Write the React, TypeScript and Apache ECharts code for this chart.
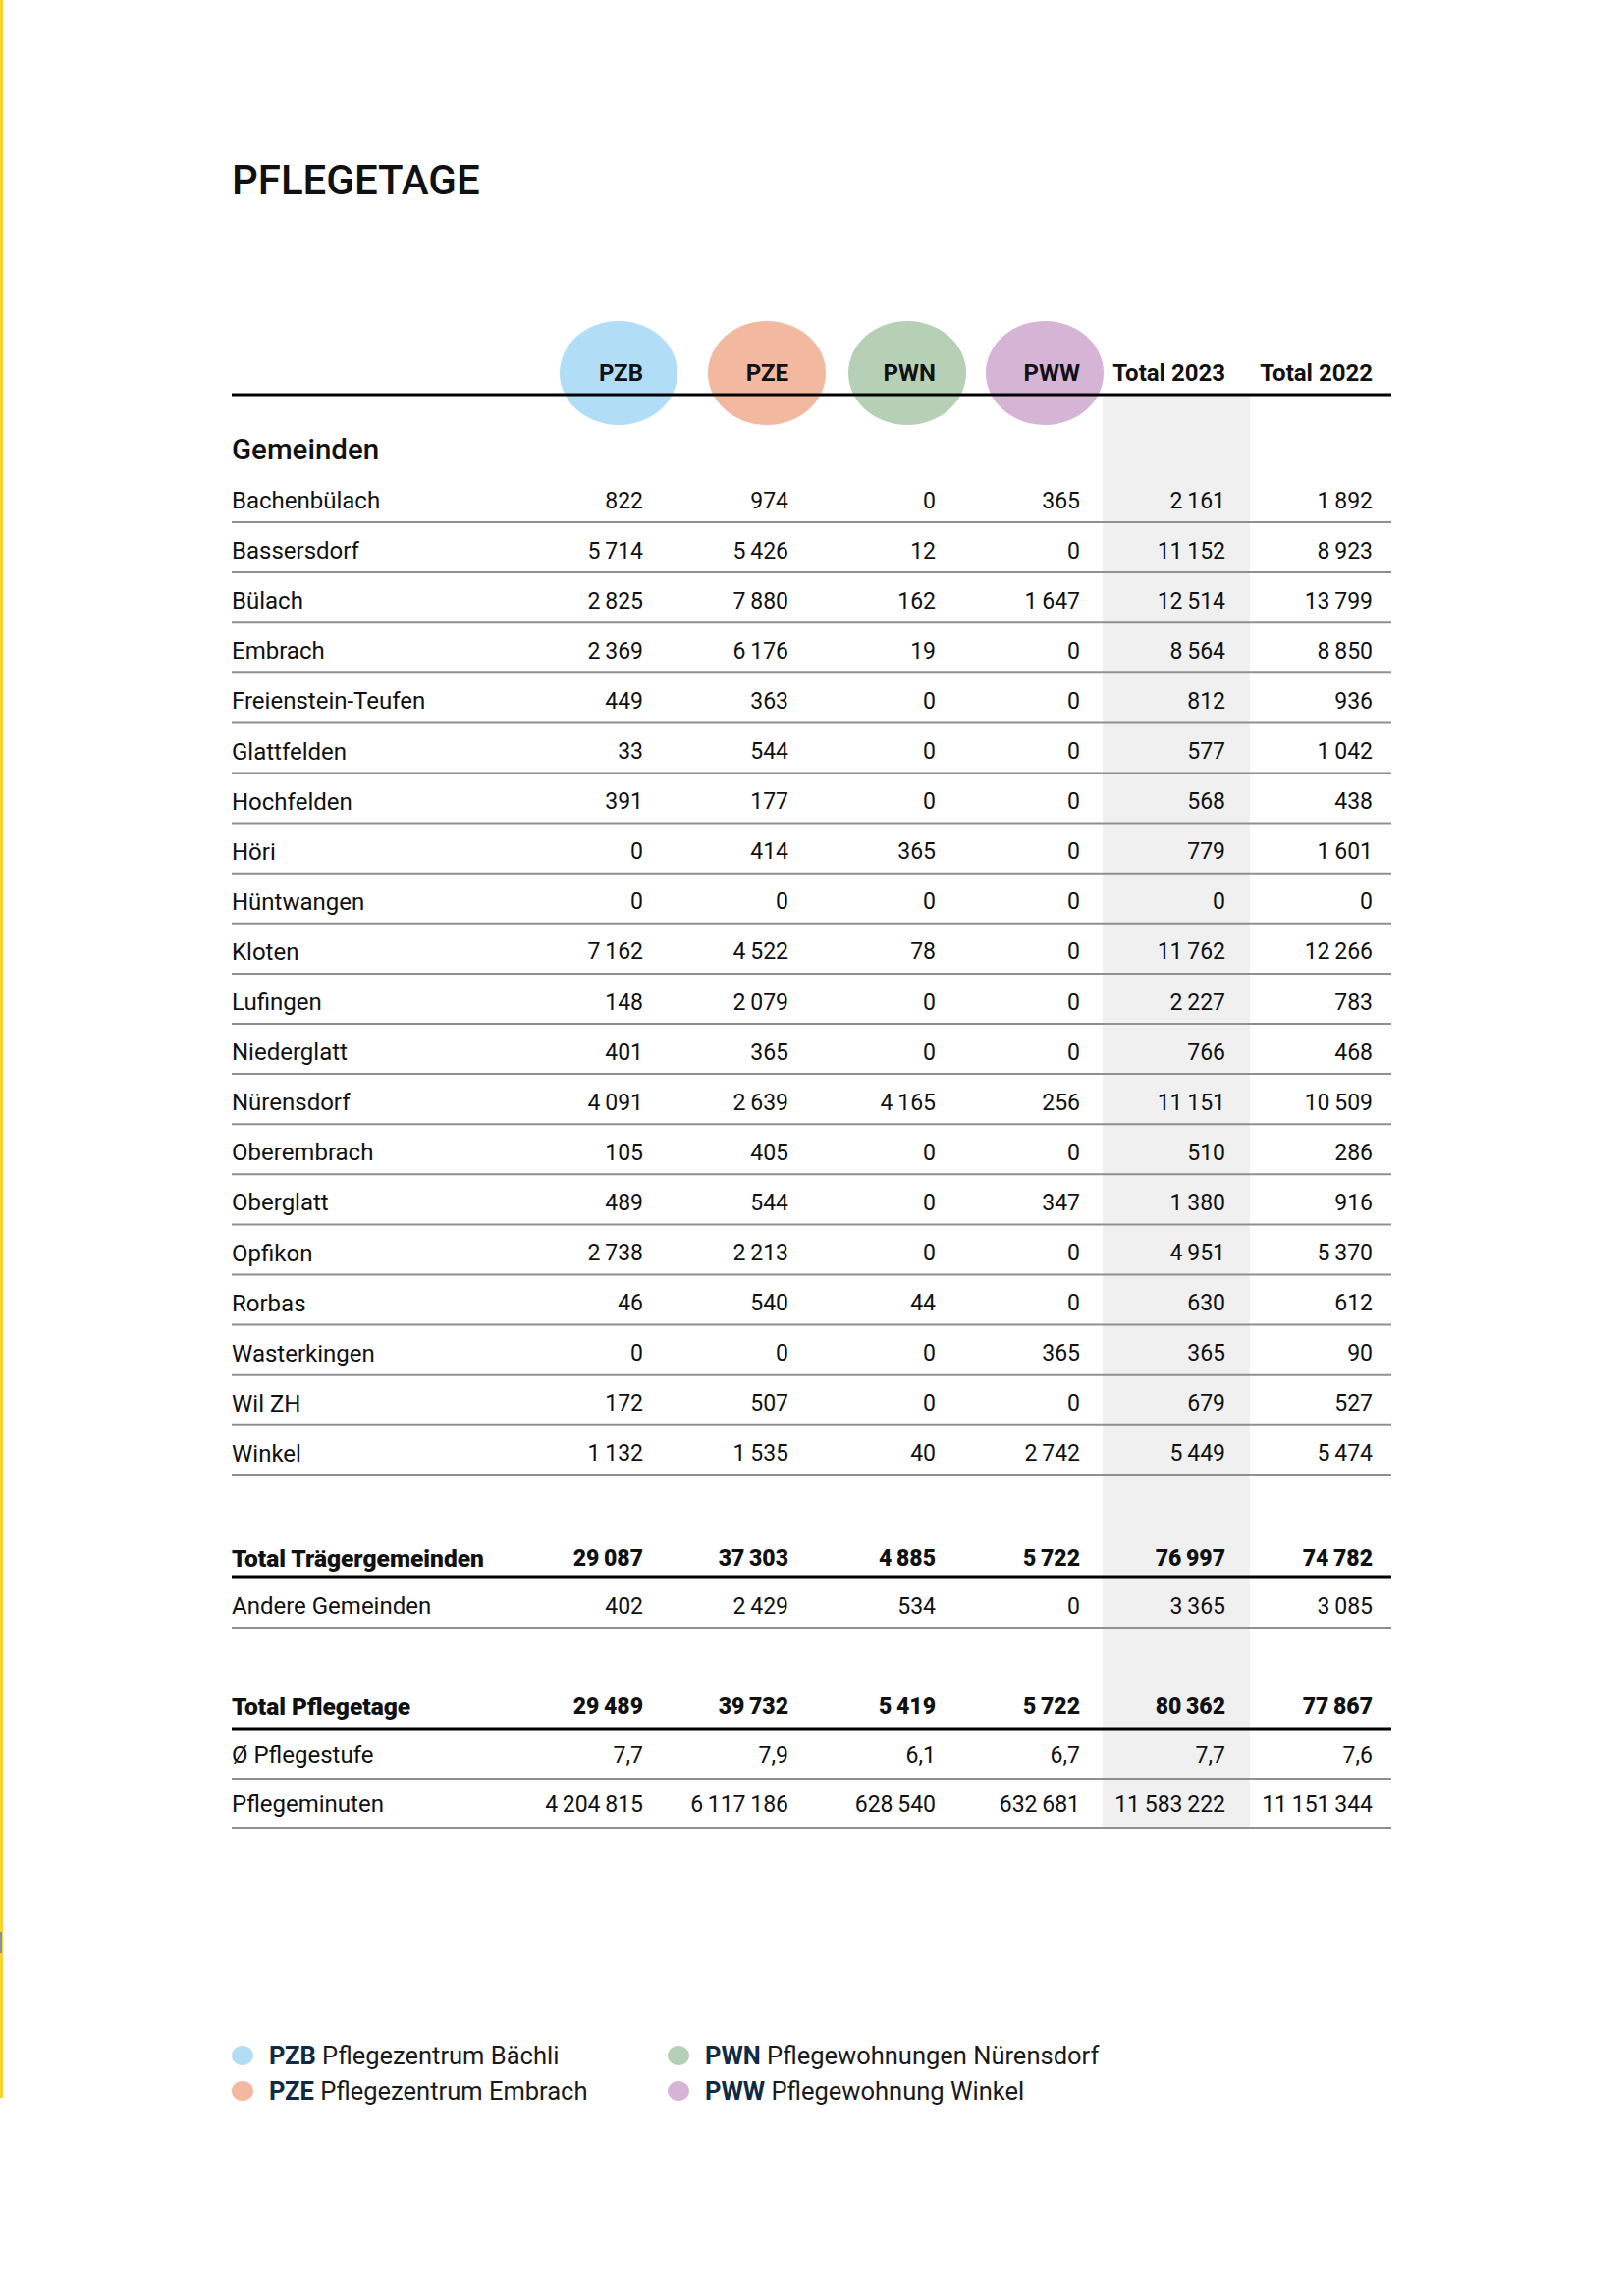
import React, { useEffect, useRef } from "react";
import * as echarts from "echarts";

// ---------- DATA ----------
const pageTitle = "PFLEGETAGE";
const columnLabels = ["PZB", "PZE", "PWN", "PWW", "Total 2023", "Total 2022"];
const sectionLabel = "Gemeinden";

const gemeinden = [
  "Bachenbülach", "Bassersdorf", "Bülach", "Embrach", "Freienstein-Teufen",
  "Glattfelden", "Hochfelden", "Höri", "Hüntwangen", "Kloten", "Lufingen",
  "Niederglatt", "Nürensdorf", "Oberembrach", "Oberglatt", "Opfikon",
  "Rorbas", "Wasterkingen", "Wil ZH", "Winkel",
];
const pzb = [822, 5714, 2825, 2369, 449, 33, 391, 0, 0, 7162, 148, 401, 4091, 105, 489, 2738, 46, 0, 172, 1132];
const pze = [974, 5426, 7880, 6176, 363, 544, 177, 414, 0, 4522, 2079, 365, 2639, 405, 544, 2213, 540, 0, 507, 1535];
const pwn = [0, 12, 162, 19, 0, 0, 0, 365, 0, 78, 0, 0, 4165, 0, 0, 0, 44, 0, 0, 40];
const pww = [365, 0, 1647, 0, 0, 0, 0, 0, 0, 0, 0, 0, 256, 0, 347, 0, 0, 365, 0, 2742];
const total2023 = [2161, 11152, 12514, 8564, 812, 577, 568, 779, 0, 11762, 2227, 766, 11151, 510, 1380, 4951, 630, 365, 679, 5449];
const total2022 = [1892, 8923, 13799, 8850, 936, 1042, 438, 1601, 0, 12266, 783, 468, 10509, 286, 916, 5370, 612, 90, 527, 5474];

const totalTraegerLabel = "Total Trägergemeinden";
const totalTraegerValues = [29087, 37303, 4885, 5722, 76997, 74782];
const andereLabel = "Andere Gemeinden";
const andereValues = [402, 2429, 534, 0, 3365, 3085];
const totalPflegetageLabel = "Total Pflegetage";
const totalPflegetageValues = [29489, 39732, 5419, 5722, 80362, 77867];
const pflegestufeLabel = "Ø Pflegestufe";
const pflegestufeValues = ["7,7", "7,9", "6,1", "6,7", "7,7", "7,6"];
const pflegeminutenLabel = "Pflegeminuten";
const pflegeminutenValues = [4204815, 6117186, 628540, 632681, 11583222, 11151344];

const legendCodes = ["PZB", "PZE", "PWN", "PWW"];
const legendNames = ["Pflegezentrum Bächli", "Pflegezentrum Embrach", "Pflegewohnungen Nürensdorf", "Pflegewohnung Winkel"];

// ---------- STYLE / LAYOUT ----------
const W = 1654;
const H = 2339;
const FONT = "Roboto, 'Noto Sans', sans-serif";
const bubbleColors = ["#b2ddf6", "#f3b8a0", "#b6d0b6", "#d6b4d6"];
const shadeColor = "#f0f0f0";
const greyLine = "#8f8f8f";
const navy = "#0e2a45";
const textColor = "#111111";

const tableLeft = 236;
const tableRight = 1417;
const colRight = [655, 803, 953, 1100, 1248, 1398];
const bubbleCx = [630, 781, 924, 1064];

function fmt(v: number | string): string {
  if (typeof v === "string") return v;
  const s = String(v);
  return s.replace(/\B(?=(\d{3})+(?!\d))/g, "\u2009");
}

function txt(x: number, y: number, text: string, opts: any = {}) {
  const align = opts.align || "left";
  return {
    type: "text",
    x,
    y,
    silent: true,
    style: {
      text,
      fill: opts.fill || textColor,
      font: `${opts.weight || 400} ${opts.size || 24}px ${FONT}`,
      textAlign: align,
      align,
      textVerticalAlign: "middle",
      verticalAlign: "middle",
      rich: opts.rich,
    },
    z: 10,
  };
}

function hline(y: number, color: string, width: number) {
  return {
    type: "line",
    silent: true,
    shape: { x1: tableLeft, y1: y, x2: tableRight, y2: y },
    style: { stroke: color, lineWidth: width },
    z: 5,
  };
}

function buildElements() {
  const els: any[] = [];

  // left yellow edge
  els.push({ type: "rect", shape: { x: 0, y: 0, width: 3, height: 2137 }, style: { fill: "#f7d531" }, z: 1 });
  els.push({ type: "rect", shape: { x: 0, y: 1968, width: 2, height: 22 }, style: { fill: "#8d8ca6" }, z: 2 });

  // title
  els.push(txt(tableLeft, 183, pageTitle, { size: 42, weight: 500 }));

  // shaded Total 2023 column
  els.push({ type: "rect", shape: { x: 1123, y: 403, width: 150, height: 1460 }, style: { fill: shadeColor }, z: 1 });

  // bubbles
  bubbleCx.forEach((cx, i) => {
    els.push({ type: "ellipse", shape: { cx, cy: 380, rx: 60, ry: 53 }, style: { fill: bubbleColors[i] }, z: 2 });
  });

  // header labels
  columnLabels.forEach((lab, i) => {
    els.push(txt(colRight[i], 380, lab, { align: "right", weight: 700, size: 24 }));
  });
  els.push(hline(402, "#000000", 3));

  // section label
  els.push(txt(tableLeft, 458, sectionLabel, { size: 29.5, weight: 500 }));

  // rows
  const rowY0 = 510;
  const step = 51.1;
  gemeinden.forEach((name, r) => {
    const y = rowY0 + r * step;
    els.push(txt(tableLeft, y, name, { size: 24 }));
    const vals = [pzb[r], pze[r], pwn[r], pww[r], total2023[r], total2022[r]];
    vals.forEach((v, c) => els.push(txt(colRight[c], y, fmt(v), { align: "right", size: 23 })));
    els.push(hline(y + 22, greyLine, 2));
  });

  const summary = [
    { label: totalTraegerLabel, vals: totalTraegerValues, y: 1587, bold: true, line: 1607 },
    { label: andereLabel, vals: andereValues, y: 1636, bold: false, line: 1658 },
    { label: totalPflegetageLabel, vals: totalPflegetageValues, y: 1738, bold: true, line: 1761 },
    { label: pflegestufeLabel, vals: pflegestufeValues, y: 1788, bold: false, line: 1812 },
    { label: pflegeminutenLabel, vals: pflegeminutenValues, y: 1838, bold: false, line: 1862 },
  ];
  summary.forEach((s) => {
    const w = s.bold ? 900 : 400;
    els.push(txt(tableLeft, s.y, s.label, { size: s.bold ? 24.5 : 24, weight: w }));
    s.vals.forEach((v: any, c: number) =>
      els.push(txt(colRight[c], s.y, fmt(v), { align: "right", size: 23, weight: w }))
    );
    els.push(s.bold ? hline(s.line, "#000000", 3) : hline(s.line, greyLine, 2));
  });

  // legend
  const legX = [247, 691];
  const legY = [2094, 2130];
  legendCodes.forEach((code, i) => {
    const col = Math.floor(i / 2);
    const row = i % 2;
    const cx = legX[col];
    const cy = legY[row];
    els.push({ type: "ellipse", shape: { cx, cy, rx: 11, ry: 10 }, style: { fill: bubbleColors[i] }, z: 3 });
    els.push(
      txt(cx + 27, cy, `{b|${code}} {n|${legendNames[i]}}`, {
        size: 25.5,
        rich: {
          b: { fontFamily: FONT, fontSize: 25.5, fontWeight: 700, fill: navy, color: navy },
          n: { fontFamily: FONT, fontSize: 25.5, fontWeight: 400, fill: "#1a1a1a", color: "#1a1a1a" },
        },
      })
    );
  });

  return els;
}

export default function App() {
  const ref = useRef<HTMLDivElement>(null);
  useEffect(() => {
    if (!ref.current) return;
    const chart = echarts.init(ref.current, undefined, { renderer: "svg", width: W, height: H });
    chart.setOption({
      animation: false,
      backgroundColor: "#ffffff",
      graphic: { elements: buildElements() },
    });
    return () => chart.dispose();
  }, []);
  return (
    <div
      ref={ref}
      style={{ position: "absolute", left: 0, top: 0, width: W, height: H, background: "#fff" }}
    />
  );
}
